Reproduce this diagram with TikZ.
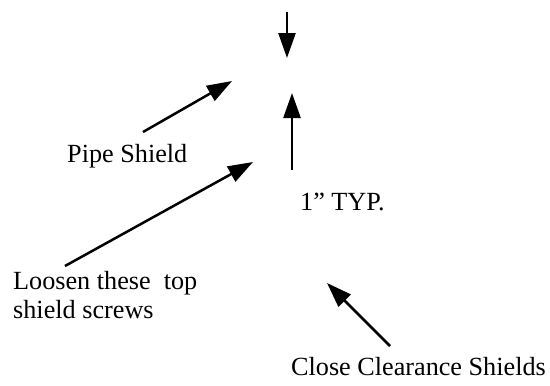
\documentclass[tikz,border=0pt]{standalone}
\usepackage{fontspec}
\setmainfont{Liberation Serif}
\usetikzlibrary{arrows.meta,positioning}

\begin{document}
\begin{tikzpicture}[x=1pt, y=-1pt, >={Triangle[length=25pt,width=17pt]},
    lbl/.style={inner sep=0pt, font=\fontsize{26.2}{29}\selectfont},
    pointer/.style={->, line width=2.5pt}]
  \useasboundingbox (0,0) rectangle (550,386);
  % labels
  \node[lbl, anchor=base west] (pipe) at (67,162) {Pipe Shield};
  \node[lbl, anchor=base west] (typ) at (300,210) {1” TYP.};
  \node[lbl, anchor=north west, align=left] (loosen) at (13,271.5) {Loosen these\ \ top\\shield screws};
  \node[lbl, anchor=base east] (close) at (546,375) {Close Clearance Shields};
  % arrow ends
  \coordinate (gaptop) at (287,12);
  \coordinate (gaptopend) at (287,58);
  \coordinate (gapbot) at (292,170);
  \coordinate (gapbotend) at (292,93);
  \coordinate (pipetail) at (143,132);
  \coordinate (pipetip) at (232,81);
  \coordinate (loosentail) at (65,266);
  \coordinate (loosentip) at (253,162);
  \coordinate (closetail) at (390,346);
  \coordinate (closetip) at (327,283);
  % arrows
  \draw[pointer] (gaptop) -- (gaptopend);
  \draw[pointer] (gapbot) -- (gapbotend);
  \draw[pointer] (pipetail) -- (pipetip);
  \draw[pointer] (loosentail) -- (loosentip);
  \draw[pointer] (closetail) -- (closetip);
\end{tikzpicture}
\end{document}
